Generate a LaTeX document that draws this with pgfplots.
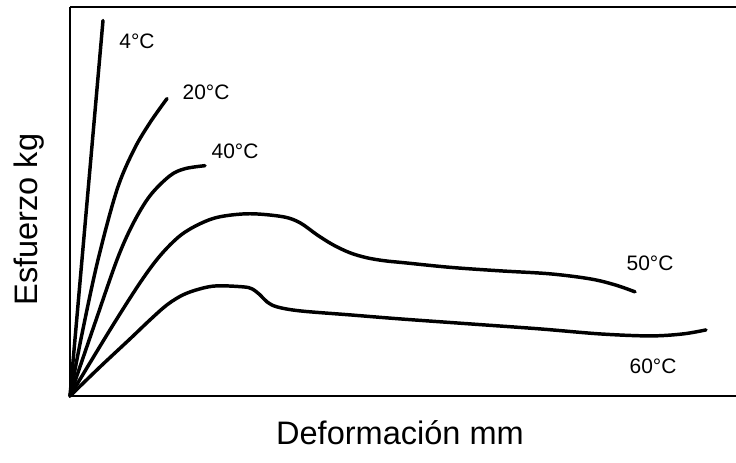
\documentclass[border=0pt]{standalone}
\usepackage{fontspec}
\setmainfont{Liberation Sans}
\usepackage{pgfplots}
\pgfplotsset{compat=1.18}
\pgfplotsset{curve/.style={line width=2.6pt, black, smooth, tension=0.55, no markers, line cap=round}}
\begin{document}
\begin{tikzpicture}
\useasboundingbox (-52.5pt,-50.25pt) rectangle (499.5pt,297pt);
\begin{axis}[
  scale only axis, width=499.5pt, height=291pt,
  xmin=0, xmax=666, ymin=0, ymax=388,
  axis x line*=box, axis y line*=left,
  axis line style={line width=1.5pt},
  xtick=\empty, ytick=\empty,
  clip=false,
]
% 4 C
\addplot[curve] coordinates {(0,0) (33,375)};
% 20 C
\addplot[curve] coordinates {(0,0) (12,62) (28,136) (47,206) (64,246) (80,273) (97,297)};
% 40 C
\addplot[curve] coordinates {(0,0) (24,70) (47,136) (63,172) (80,200) (100,220) (115,227) (135,230)};
% 50 C
\addplot[curve] coordinates {(0,0) (40,66) (70,113) (90,140) (110,160) (130,172) (150,179) (180,182) (213,179) (230,173) (247,161) (263,151) (280,143) (297,138) (315,135) (335,133) (380,128.5) (430,125) (480,122) (520,117) (545,111) (565,104)};
% 60 C
\addplot[curve] coordinates {(0,0) (30,29) (60,57) (80,76) (97,91) (113,101) (130,107) (147,110) (173,109) (182,107) (190,101) (197,94) (207,89) (230,85) (280,81) (330,77) (400,72) (470,67) (530,62) (580,60) (613,62) (636,66)};
\node[font=\fontsize{15.7pt}{18pt}\selectfont] at (axis cs:67,354) {4°C};
\node[font=\fontsize{15.7pt}{18pt}\selectfont] at (axis cs:136,303) {20°C};
\node[font=\fontsize{15.7pt}{18pt}\selectfont] at (axis cs:165,244) {40°C};
\node[font=\fontsize{15.7pt}{18pt}\selectfont] at (axis cs:580,133) {50°C};
\node[font=\fontsize{15.7pt}{18pt}\selectfont] at (axis cs:583,30) {60°C};
\node[font=\fontsize{24.4pt}{28pt}\selectfont, rotate=90] at (axis cs:-41,176) {Esfuerzo kg};
\node[font=\fontsize{24.4pt}{28pt}\selectfont, anchor=base] at (axis cs:330,-48) {Deformación mm};
\end{axis}
\end{tikzpicture}
\end{document}
